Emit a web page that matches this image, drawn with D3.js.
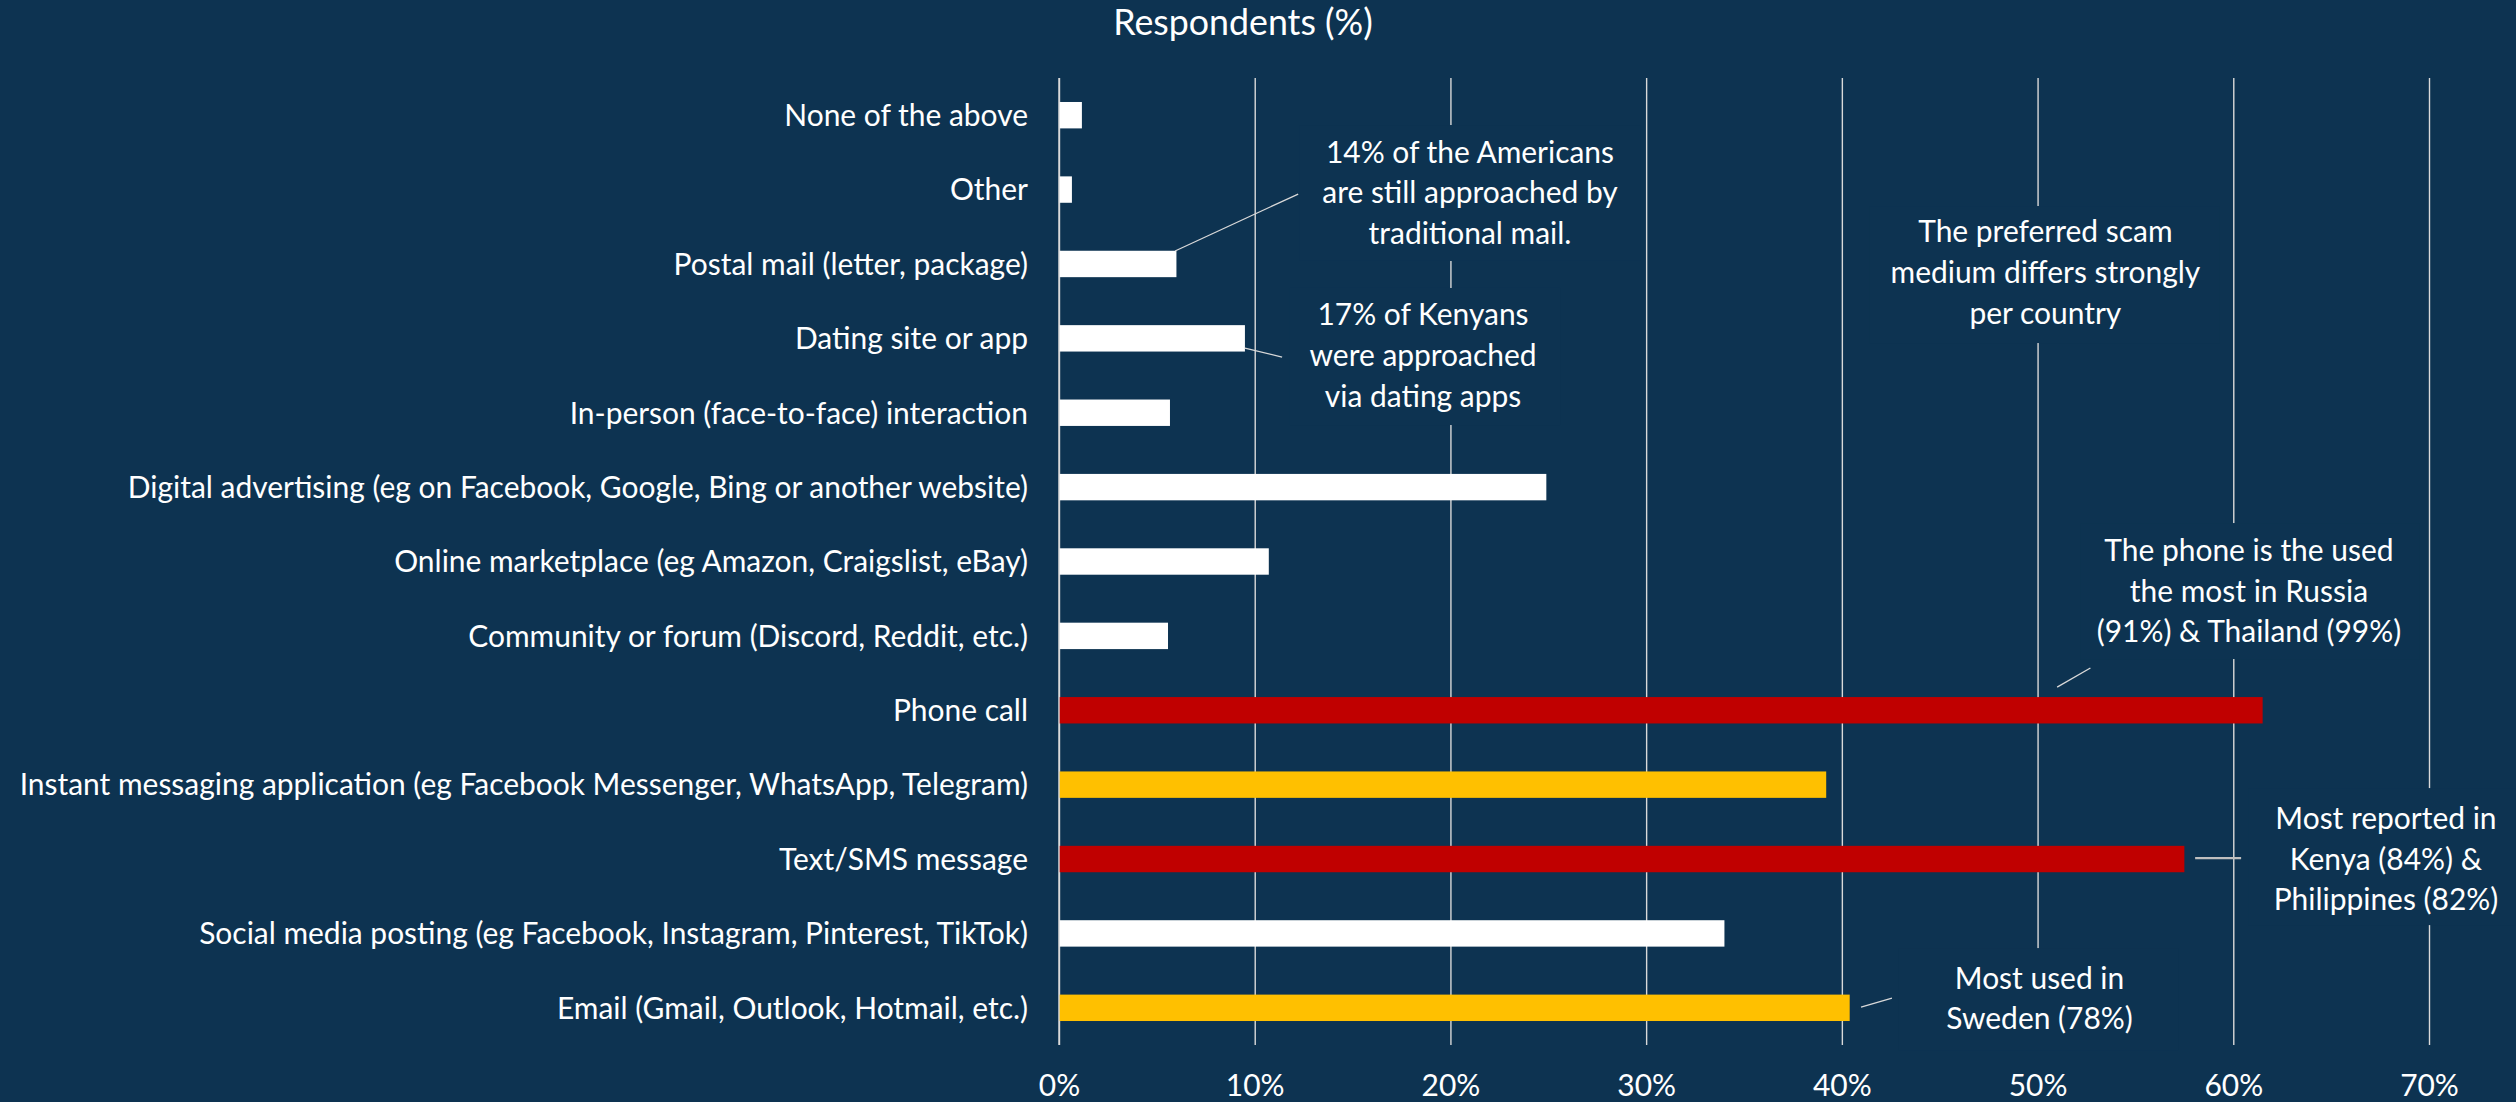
<!DOCTYPE html>
<html>
<head>
<meta charset="utf-8">
<script src="https://cdn.jsdelivr.net/npm/d3@7"></script>
<style>
  html, body { margin: 0; padding: 0; background: #0d3351; }
  svg { display: block; }
  text { font-family: Lato, "Open Sans", sans-serif; fill: #ffffff; }
</style>
</head>
<body>
<svg id="chart" width="2516" height="1102"></svg>
<script>
// ---- data ----
const categories = [
  "None of the above",
  "Other",
  "Postal mail (letter, package)",
  "Dating site or app",
  "In-person (face-to-face) interaction",
  "Digital advertising (eg on Facebook, Google, Bing or another website)",
  "Online marketplace (eg Amazon, Craigslist, eBay)",
  "Community or forum (Discord, Reddit, etc.)",
  "Phone call",
  "Instant messaging application (eg Facebook Messenger, WhatsApp, Telegram)",
  "Text/SMS message",
  "Social media posting (eg Facebook, Instagram, Pinterest, TikTok)",
  "Email (Gmail, Outlook, Hotmail, etc.)"
];
const values = [1.17, 0.66, 6.0, 9.5, 5.67, 24.9, 10.72, 5.57, 61.5, 39.2, 57.5, 34.0, 40.4];
const highlight = ["none","none","none","none","none","none","none","none","red","yellow","red","none","yellow"];
const tickValues = [0, 10, 20, 30, 40, 50, 60, 70];
const tickLabels = ["0%", "10%", "20%", "30%", "40%", "50%", "60%", "70%"];
const titleText = "Respondents (%)";

// annotations: x in %, t = fractional category-band index
const annotations = [
  { lines: ["14% of the Americans", "are still approached by", "traditional mail."], x: 21.0, t: 1.687,
    box: [12.3, 29.7, 0.632, 2.460], leader: [5.93, 2.326, 12.22, 1.560] },
  { lines: ["17% of Kenyans", "were approached", "via dating apps"], x: 18.6, t: 3.872,
    box: [11.8, 25.6, 2.823, 4.665], leader: [9.5, 3.630, 11.4, 3.751] },
  { lines: ["The preferred scam", "medium differs strongly", "per country"], x: 50.4, t: 2.756,
    box: [41.4, 59.3, 1.721, 3.563], leader: null },
  { lines: ["The phone is the used", "the most in Russia", "(91%) & Thailand (99%)"], x: 60.8, t: 7.038,
    box: [52.2, 69.5, 5.983, 7.811], leader: [51.0, 8.188, 52.7, 7.932] },
  { lines: ["Most reported in", "Kenya (84%) &", "Philippines (82%)"], x: 67.8, t: 10.641,
    box: [60.8, 74.4, 9.546, 11.388], leader: [58.05, 10.487, 60.4, 10.487], gray: true },
  { lines: ["Most used in", "Sweden (78%)"], x: 50.1, t: 12.517,
    box: [42.9, 57.2, 11.697, 13.07], leader: [40.98, 12.490, 42.56, 12.369] }
];

// ---- styles ----
const bg = "#0d3351";
const colorMap = { none: "#ffffff", red: "#c00000", yellow: "#ffc000" };
const gridColor = "#d9d9d9";

const svg = d3.select("#chart");
svg.append("rect").attr("width", 2516).attr("height", 1102).attr("fill", bg);

const plotTop = 78, plotBottom = 1045, plotLeft = 1059, plotRight = 2429;

const x = d3.scaleLinear().domain([0, 70]).range([plotLeft, plotRight]);
const y = d3.scaleBand().domain(categories).range([plotTop, plotBottom])
  .paddingInner(0.645).paddingOuter(0.3225);
const tY = t => plotTop + t * y.step();

// font fitting to match reference text widths
const probe = svg.append("text").attr("font-size", 100).text(categories[9]);
const w100 = probe.node().getComputedTextLength();
probe.remove();
const fs = 100 * 1009 / w100;
const titleFs = fs * 37 / 31;
const lineH = fs * 1.36;

// gridlines via axis
const gridAxis = d3.axisBottom(x).tickValues(tickValues).tickSize(-(plotBottom - plotTop)).tickFormat("");
const grid = svg.append("g").attr("transform", `translate(0,${plotBottom})`).call(gridAxis);
grid.select(".domain").remove();
grid.selectAll("line").attr("stroke", gridColor).attr("stroke-width", 1.4);

// tick labels via axis
const labAxis = d3.axisBottom(x).tickValues(tickValues).tickSize(0).tickFormat((d, i) => tickLabels[i]);
const lab = svg.append("g").attr("transform", `translate(0,1093)`).call(labAxis);
lab.select(".domain").remove();
lab.selectAll("text").attr("dy", 0).attr("font-size", fs).attr("font-family", "Lato, sans-serif").attr("fill", "#fff");

// annotation background boxes (cover gridlines)
svg.append("g").selectAll("rect").data(annotations).join("rect")
  .attr("x", d => x(d.box[0])).attr("width", d => x(d.box[1]) - x(d.box[0]))
  .attr("y", d => tY(d.box[2])).attr("height", d => tY(d.box[3]) - tY(d.box[2]))
  .attr("fill", bg);

// bars
svg.append("g").selectAll("rect").data(categories).join("rect")
  .attr("x", x(0))
  .attr("y", d => y(d))
  .attr("height", y.bandwidth())
  .attr("width", (d, i) => x(values[i]) - x(0))
  .attr("fill", (d, i) => colorMap[highlight[i]]);

// axis line on top
svg.append("line").attr("x1", x(0)).attr("x2", x(0)).attr("y1", plotTop).attr("y2", plotBottom)
  .attr("stroke", gridColor).attr("stroke-width", 1.4);

// category labels
const yAxis = d3.axisLeft(y).tickSize(0).tickPadding(0);
const ya = svg.append("g").attr("transform", `translate(${plotLeft - 31},0)`).call(yAxis);
ya.select(".domain").remove();
ya.selectAll("text").attr("font-size", fs).attr("font-family", "Lato, sans-serif")
  .attr("fill", "#fff").attr("dy", "0.36em");

// leader lines
svg.append("g").selectAll("line").data(annotations.filter(a => a.leader)).join("line")
  .attr("x1", d => x(d.leader[0])).attr("y1", d => tY(d.leader[1]))
  .attr("x2", d => x(d.leader[2])).attr("y2", d => tY(d.leader[3]))
  .attr("stroke", d => d.gray ? "#bfbfbf" : gridColor)
  .attr("stroke-width", d => d.gray ? 2.2 : 1.3);

// annotation texts
const ann = svg.append("g").selectAll("text").data(annotations).join("text")
  .attr("text-anchor", "middle").attr("font-size", fs);
ann.each(function(d) {
  const n = d.lines.length;
  const mid = tY(d.t);
  d3.select(this).selectAll("tspan").data(d.lines).join("tspan")
    .attr("x", x(d.x))
    .attr("y", (l, i) => mid + (i - (n - 1) / 2) * lineH)
    .text(l => l);
});

// title
svg.append("text").attr("x", 1243).attr("y", 35).attr("text-anchor", "middle")
  .attr("font-size", titleFs).text(titleText);
</script>
</body>
</html>
